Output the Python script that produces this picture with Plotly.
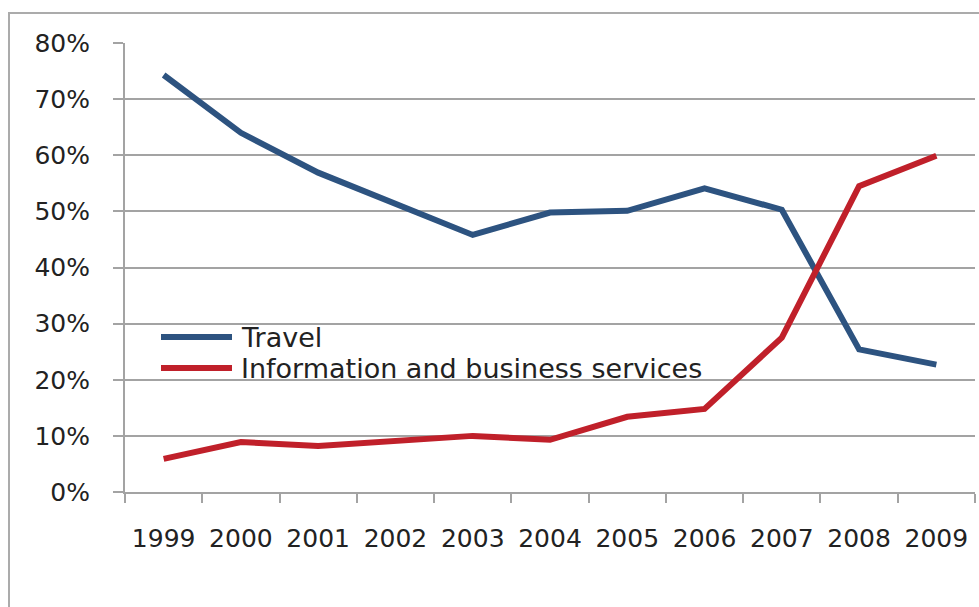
import plotly.graph_objects as go

years = ["1999", "2000", "2001", "2002", "2003", "2004", "2005", "2006", "2007", "2008", "2009"]
travel = [0.743, 0.640, 0.569, 0.513, 0.458, 0.498, 0.501, 0.541, 0.503, 0.254, 0.227]
info_business = [0.059, 0.089, 0.082, 0.090, 0.100, 0.093, 0.134, 0.148, 0.275, 0.545, 0.599]

series_names = ["Travel", "Information and business services"]
series_colors = ["#2D5380", "#C0202A"]

W, H = 979, 607
L, R, T, B = 125, 4, 43, 115
plot_w = W - L - R
plot_h = H - T - B

FONT = "DejaVu Sans"
GRID = "#A3A3A3"
TEXT = "#222222"

def px_x(p):
    return (p - L) / plot_w

def px_y(p):
    return (H - B - p) / plot_h

fig = go.Figure()
for name, vals, col in zip(series_names, [travel, info_business], series_colors):
    fig.add_trace(go.Scatter(
        x=years, y=vals, name=name, mode="lines",
        line=dict(color=col, width=6), showlegend=False,
    ))

# outer frame of the chart object
fig.add_shape(type="rect", xref="paper", yref="paper",
              x0=px_x(9), x1=px_x(990), y0=px_y(620), y1=px_y(13),
              line=dict(color="#ABABAB", width=2), fillcolor="rgba(0,0,0,0)",
              layer="below")

# legend: long line samples followed by the series names
legend_rows = [337, 368]
for name, col, row in zip(series_names, series_colors, legend_rows):
    fig.add_shape(type="line", xref="paper", yref="paper",
                  x0=px_x(161), x1=px_x(232), y0=px_y(row), y1=px_y(row),
                  line=dict(color=col, width=6))
    fig.add_annotation(xref="paper", yref="paper", x=px_x(239), y=px_y(row),
                       xanchor="left", yanchor="middle", showarrow=False,
                       text=name, font=dict(family=FONT, size=27, color=TEXT))

fig.update_layout(
    width=W, height=H,
    margin=dict(l=L, r=R, t=T, b=B),
    paper_bgcolor="white", plot_bgcolor="white",
    font=dict(family=FONT, size=25, color=TEXT),
    showlegend=False,
    xaxis=dict(
        type="category", tickson="boundaries", ticks="outside", ticklen=9,
        tickcolor=GRID, tickwidth=2, showline=True, linecolor=GRID, linewidth=2,
        showgrid=False, tickfont=dict(size=25), ticklabelstandoff=23,
        range=[-0.5, 10.5],
    ),
    yaxis=dict(
        range=[0, 0.8], dtick=0.1, tickformat=".0%", showgrid=True,
        gridcolor=GRID, gridwidth=2, ticks="outside", ticklen=10,
        tickcolor=GRID, tickwidth=2, showline=True, linecolor=GRID, linewidth=2,
        zeroline=False, tickfont=dict(size=25), ticklabelstandoff=18,
    ),
)

fig.write_html("out.html")
